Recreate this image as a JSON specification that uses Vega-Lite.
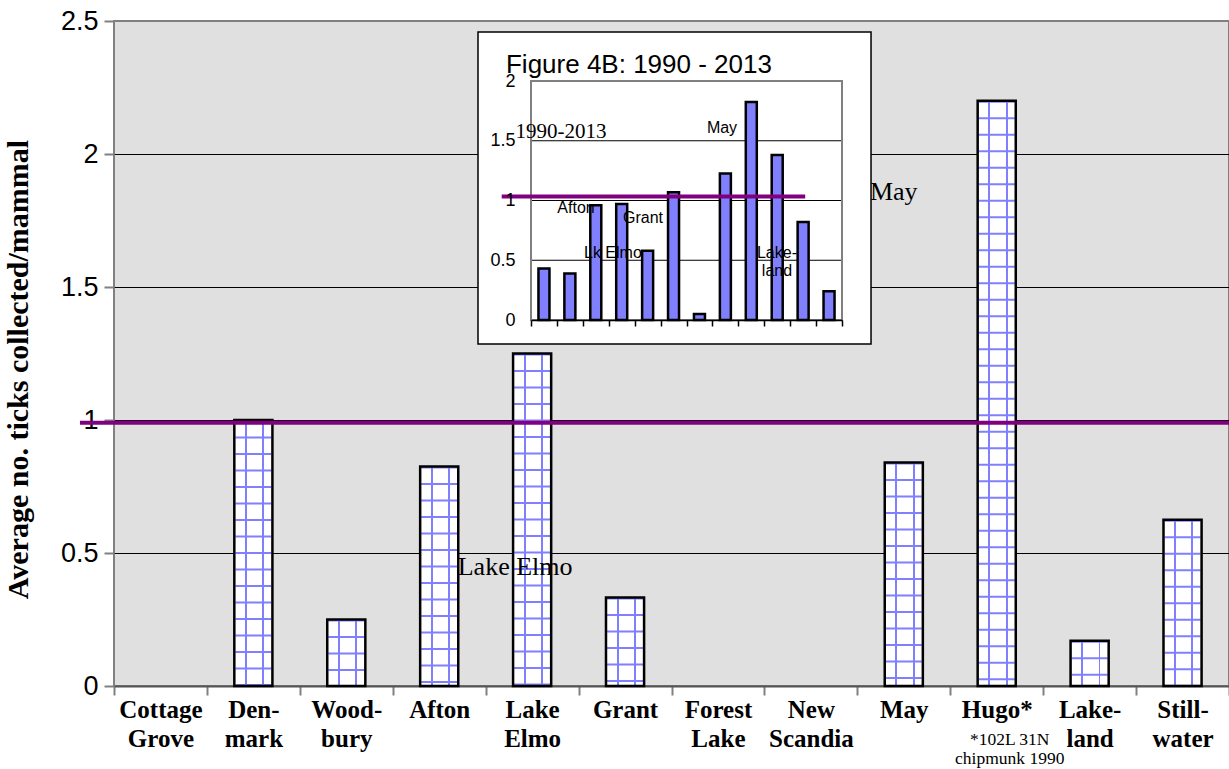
{
  "$schema": "https://vega.github.io/schema/vega-lite/v6.json",
  "width": 1115,
  "height": 665,
  "autosize": {"type": "none"},
  "padding": {"left": 114, "top": 21, "right": 0, "bottom": 83},
  "background": "white",
  "config": {"view": {"fill": "#E0E0E0", "stroke": "#808080", "strokeWidth": 2}},
  "datasets": {
    "main": [
      {"town": "Cottage|Grove", "v": 0},
      {"town": "Den-|mark", "v": 1.0},
      {"town": "Wood-|bury", "v": 0.25},
      {"town": "Afton", "v": 0.825},
      {"town": "Lake|Elmo", "v": 1.25},
      {"town": "Grant", "v": 0.333},
      {"town": "Forest|Lake", "v": 0},
      {"town": "New|Scandia", "v": 0},
      {"town": "May", "v": 0.84},
      {"town": "Hugo*", "v": 2.2},
      {"town": "Lake-|land", "v": 0.17},
      {"town": "Still-|water", "v": 0.625}
    ],
    "inset": [
      {"i": 1, "v": 0.43},
      {"i": 2, "v": 0.39},
      {"i": 3, "v": 0.96},
      {"i": 4, "v": 0.97},
      {"i": 5, "v": 0.58},
      {"i": 6, "v": 1.07},
      {"i": 7, "v": 0.05},
      {"i": 8, "v": 1.225},
      {"i": 9, "v": 1.825},
      {"i": 10, "v": 1.38},
      {"i": 11, "v": 0.82},
      {"i": 12, "v": 0.24}
    ]
  },
  "layer": [
    {
      "layer": [
        {
          "data": {"name": "main"},
          "transform": [{"filter": "datum.v > 0"}],
          "mark": {
            "type": "bar", "width": {"band": 0.41}, "strokeWidth": 0,
            "fill": {"gradient": "linear", "x1": 0, "y1": 0, "x2": 1, "y2": 0, "stops": [
              {"offset": 0, "color": "white"}, {"offset": 0.28, "color": "white"},
              {"offset": 0.28, "color": "#8080FF"}, {"offset": 0.33, "color": "#8080FF"},
              {"offset": 0.33, "color": "white"}, {"offset": 0.735, "color": "white"},
              {"offset": 0.735, "color": "#8080FF"}, {"offset": 0.785, "color": "#8080FF"},
              {"offset": 0.785, "color": "white"}, {"offset": 1, "color": "white"}
            ]}
          },
          "encoding": {
            "x": {
              "field": "town", "type": "nominal", "sort": null,
              "scale": {"domain": ["Cottage|Grove", "Den-|mark", "Wood-|bury", "Afton", "Lake|Elmo", "Grant", "Forest|Lake", "New|Scandia", "May", "Hugo*", "Lake-|land", "Still-|water"], "paddingInner": 0, "paddingOuter": 0},
              "axis": {
                "title": null, "tickBand": "extent", "labelAngle": 0,
                "labelExpr": "split(datum.label, '|')",
                "labelFont": "Liberation Serif", "labelFontWeight": "bold", "labelFontSize": 25, "labelColor": "black",
                "labelLineHeight": 29, "labelPadding": 2, "labelBaseline": "top",
                "tickSize": 9, "tickColor": "#808080", "tickWidth": 2,
                "domainColor": "#555555", "domainWidth": 2, "grid": false
              }
            },
            "y": {
              "field": "v", "type": "quantitative",
              "scale": {"domain": [0, 2.5], "nice": false},
              "axis": {
                "title": "Average no. ticks collected/mammal",
                "titleFont": "Liberation Serif", "titleFontWeight": "bold", "titleFontSize": 30, "titleColor": "black", "titlePadding": 27, "titleY": 348,
                "values": [0, 0.5, 1, 1.5, 2, 2.5], "format": "~g",
                "labelFont": "Liberation Sans", "labelFontSize": 27, "labelColor": "black", "labelPadding": 6,
                "tickSize": 10, "tickColor": "#808080", "tickWidth": 2,
                "domain": false,
                "grid": true, "gridWidth": 1,
                "gridColor": {"condition": {"test": "datum.value == 0 || datum.value == 2.5", "value": "transparent"}, "value": "black"}
              }
            }
          }
        },
        {
          "data": {"name": "main"},
          "transform": [{"filter": "datum.v > 0"}],
          "mark": {"type": "rule", "stroke": "#8080FF", "strokeWidth": 36, "strokeDash": [2, 14.5], "strokeCap": "butt"},
          "encoding": {
            "x": {"field": "town", "type": "nominal", "sort": null},
            "y": {"field": "v", "type": "quantitative"},
            "y2": {"datum": 0}
          }
        },
        {
          "data": {"name": "main"},
          "transform": [{"filter": "datum.v > 0"}],
          "mark": {"type": "bar", "width": {"band": 0.41}, "filled": false, "stroke": "black", "strokeWidth": 2.5},
          "encoding": {
            "x": {"field": "town", "type": "nominal", "sort": null},
            "y": {"field": "v", "type": "quantitative"}
          }
        },
        {
          "data": {"values": [{"k": 1}]},
          "mark": {"type": "rule", "stroke": "#800080", "strokeWidth": 4, "xOffset": -80.5, "x2Offset": 46.5},
          "encoding": {
            "x": {"datum": "Cottage|Grove"},
            "x2": {"datum": "Still-|water"},
            "y": {"datum": 0.99}
          }
        },
        {
          "data": {"values": [{"k": 1}]},
          "mark": {"type": "text", "text": "May", "font": "Liberation Serif", "fontSize": 26, "color": "black", "align": "center", "baseline": "middle", "dx": -10},
          "encoding": {"x": {"datum": "May"}, "y": {"datum": 1.857}}
        },
        {
          "data": {"values": [{"k": 1}]},
          "mark": {"type": "text", "text": "Lake Elmo", "font": "Liberation Serif", "fontSize": 26, "color": "black", "align": "center", "baseline": "middle", "dx": -17},
          "encoding": {"x": {"datum": "Lake|Elmo"}, "y": {"datum": 0.447}}
        },
        {
          "data": {"values": [{"k": 1}]},
          "mark": {"type": "text", "text": ["*102L 31N", "chipmunk 1990"], "font": "Liberation Serif", "fontSize": 17.5, "lineHeight": 18.5, "color": "black", "align": "center", "baseline": "middle", "dx": 13, "dy": 54},
          "encoding": {"x": {"datum": "Hugo*"}, "y": {"datum": 0}}
        }
      ]
    },
    {
      "layer": [
        {
          "data": {"values": [{"k": 1}]},
          "mark": {"type": "rect", "fill": "white", "stroke": "black", "strokeWidth": 1.5},
          "encoding": {"x": {"datum": -1.545}, "x2": {"datum": 13.62}, "y": {"datum": -0.2}, "y2": {"datum": 2.41}}
        },
        {
          "data": {"values": [{"k": 1}]},
          "mark": {"type": "rule", "stroke": "black", "strokeWidth": 1},
          "encoding": {"x": {"datum": 0.5}, "x2": {"datum": 12.5}, "y": {"datum": 0.5}}
        },
        {
          "data": {"values": [{"k": 1}]},
          "mark": {"type": "rule", "stroke": "black", "strokeWidth": 1},
          "encoding": {"x": {"datum": 0.5}, "x2": {"datum": 12.5}, "y": {"datum": 1}}
        },
        {
          "data": {"values": [{"k": 1}]},
          "mark": {"type": "rule", "stroke": "black", "strokeWidth": 1},
          "encoding": {"x": {"datum": 0.5}, "x2": {"datum": 12.5}, "y": {"datum": 1.5}}
        },
        {
          "data": {"values": [{"k": 1}]},
          "mark": {"type": "rect", "filled": false, "stroke": "#808080", "strokeWidth": 2},
          "encoding": {"x": {"datum": 0.5}, "x2": {"datum": 12.5}, "y": {"datum": 0}, "y2": {"datum": 2}}
        },
        {
          "data": {"name": "inset"},
          "mark": {"type": "bar", "width": 11, "fill": "#8080FF", "stroke": "black", "strokeWidth": 2.5},
          "encoding": {
            "x": {
              "field": "i", "type": "quantitative",
              "scale": {"domain": [0.5, 12.5], "range": [417, 728], "nice": false, "zero": false, "padding": 0},
              "axis": {
                "orient": "bottom", "offset": -366, "title": null,
                "values": [0.5, 1.5, 2.5, 3.5, 4.5, 5.5, 6.5, 7.5, 8.5, 9.5, 10.5, 11.5, 12.5],
                "labels": false, "grid": false, "tickSize": 6, "tickColor": "black", "tickWidth": 1.5,
                "domainColor": "black", "domainWidth": 1.5, "zindex": 1
              }
            },
            "y": {
              "field": "v", "type": "quantitative",
              "scale": {"domain": [0, 2], "range": [299, 60], "nice": false, "zero": false, "padding": 0},
              "axis": {
                "orient": "left", "offset": -417, "title": null,
                "values": [0, 0.5, 1, 1.5, 2], "format": "~g",
                "grid": false, "ticks": false, "domain": false,
                "labelFont": "Liberation Sans", "labelFontSize": 18, "labelColor": "black", "labelPadding": 16, "zindex": 1
              }
            },
            "y2": {"datum": 0}
          }
        },
        {
          "data": {"values": [{"k": 1}]},
          "mark": {"type": "rule", "stroke": "#800080", "strokeWidth": 4},
          "encoding": {"x": {"datum": -0.63}, "x2": {"datum": 11.08}, "y": {"datum": 1.033}}
        },
        {
          "data": {"values": [{"k": 1}]},
          "mark": {"type": "text", "text": "Afton", "font": "Liberation Sans", "fontSize": 16, "color": "black", "align": "center", "baseline": "middle"},
          "encoding": {"x": {"datum": 2.236}, "y": {"datum": 0.937}}
        },
        {
          "data": {"values": [{"k": 1}]},
          "mark": {"type": "text", "text": "Grant", "font": "Liberation Sans", "fontSize": 16, "color": "black", "align": "center", "baseline": "middle"},
          "encoding": {"x": {"datum": 4.82}, "y": {"datum": 0.854}}
        },
        {
          "data": {"values": [{"k": 1}]},
          "mark": {"type": "text", "text": "Lk Elmo", "font": "Liberation Sans", "fontSize": 16, "color": "black", "align": "center", "baseline": "middle"},
          "encoding": {"x": {"datum": 3.66}, "y": {"datum": 0.561}}
        },
        {
          "data": {"values": [{"k": 1}]},
          "mark": {"type": "text", "text": "May", "font": "Liberation Sans", "fontSize": 16, "color": "black", "align": "center", "baseline": "middle"},
          "encoding": {"x": {"datum": 7.87}, "y": {"datum": 1.607}}
        },
        {
          "data": {"values": [{"k": 1}]},
          "mark": {"type": "text", "text": ["Lake-", "land"], "font": "Liberation Sans", "fontSize": 16, "lineHeight": 18, "color": "black", "align": "center", "baseline": "middle"},
          "encoding": {"x": {"datum": 9.99}, "y": {"datum": 0.56}}
        },
        {
          "data": {"values": [{"k": 1}]},
          "mark": {"type": "text", "text": "1990-2013", "font": "Liberation Serif", "fontSize": 21, "color": "black", "align": "center", "baseline": "middle"},
          "encoding": {"x": {"datum": 1.66}, "y": {"datum": 1.573}}
        },
        {
          "data": {"values": [{"k": 1}]},
          "mark": {"type": "text", "text": "Figure 4B: 1990 - 2013", "font": "Liberation Sans", "fontSize": 26, "color": "black", "align": "left", "baseline": "middle"},
          "encoding": {"x": {"datum": -0.465}, "y": {"datum": 2.134}}
        }
      ]
    }
  ],
  "resolve": {
    "scale": {"x": "independent", "y": "independent"},
    "axis": {"x": "independent", "y": "independent"}
  }
}
